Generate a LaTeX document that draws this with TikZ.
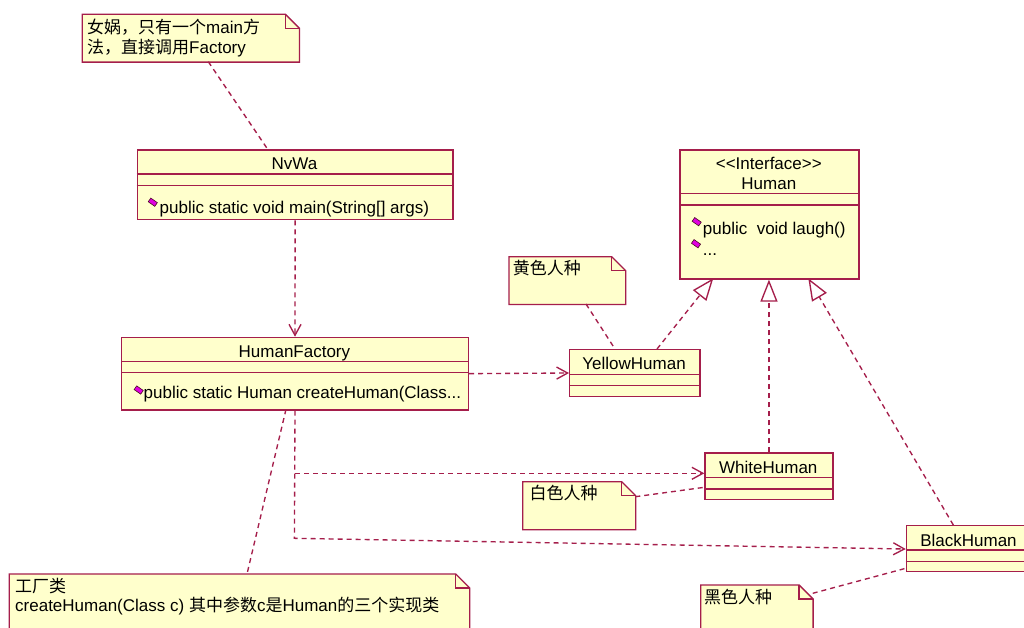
\documentclass[tikz,border=0pt]{standalone}
\usepackage{fontspec}
\setmainfont{Liberation Sans}
\newfontfamily\cjk{Noto Sans CJK SC}
\usetikzlibrary{arrows.meta}
\definecolor{rose}{RGB}{165,30,75}
\definecolor{paper}{RGB}{255,255,204}
\definecolor{iconfill}{RGB}{225,0,225}
\newcommand\umlclass[7]{%
  \node[box, minimum width=#4pt, minimum height=#5pt] (#1) at (#2,#3) {};
  \draw[sepline] ([yshift=-#6pt]#1.north west) -- ([yshift=-#6pt]#1.north east);
  \draw[sepline] ([yshift=-#7pt]#1.north west) -- ([yshift=-#7pt]#1.north east);}
\newcommand\umlnote[5]{%
  \node[inner sep=0pt, minimum width=#4pt, minimum height=#5pt, anchor=north west] (#1) at (#2,#3) {};
  \filldraw[notestyle] (#1.north west) -- ([xshift=-14pt]#1.north east) -- ([yshift=-14pt]#1.north east)
     -- (#1.south east) -- (#1.south west) -- cycle;
  \draw[notestyle, fill=none] ([xshift=-14pt]#1.north east) -- ([xshift=-14pt,yshift=-14pt]#1.north east)
     -- ([yshift=-14pt]#1.north east);}
\begin{document}
\begin{tikzpicture}[x=1pt,y=-1pt,
  box/.style={draw=rose, fill=paper, line width=1.3pt, inner sep=0pt, anchor=north west, rectangle},
  sepline/.style={draw=rose, line width=1.3pt},
  notestyle/.style={draw=rose, fill=paper, line width=1.3pt, line join=miter},
  txt/.style={inner sep=0pt, font=\fontsize{17}{20}\selectfont},
  lbl/.style={txt, anchor=base},
  lblw/.style={txt, anchor=base west},
  link/.style={draw=rose, line width=1.35pt, dash pattern=on 5pt off 4pt},
  dep/.style={link, -{Straight Barb[length=11pt,width=12pt]}},
  gen/.style={link, -{Triangle[open,length=22pt,width=17pt]}},
  ico/.style={draw=black!55!rose, fill=iconfill, line width=0.6pt, minimum width=8pt, minimum height=4.5pt, inner sep=0pt, rotate=-35}
]
\useasboundingbox (0,0) rectangle (1024,627);
\fill[white] (0,0) rectangle (1024,627);
\clip (0,0) rectangle (1024,627);

% classes
\umlclass{nvwa}{136.7}{149.3}{315.6}{69.7}{24.7}{36.4}
\umlclass{hf}{121}{336.7}{346.7}{72.6}{25}{35.6}
\umlclass{human}{679.3}{149.3}{179}{129}{44}{55.7}
\umlclass{yh}{569}{349}{130.3}{46.7}{25.3}{36.7}
\umlclass{wh}{704.3}{452.3}{128}{46.7}{25.4}{36.7}
\umlclass{bh}{905.7}{525}{126}{46}{25}{36.7}

% notes
\umlnote{n1}{82.3}{14.3}{216.7}{47.4}
\umlnote{n2}{509}{256.7}{116.3}{47.3}
\umlnote{n3}{522.7}{481.7}{112.6}{47.6}
\umlnote{n4}{700.7}{585}{112}{60}
\umlnote{n5}{9.3}{574}{460}{70}

% class texts
\node[lbl] (nvwaname) at (294.5,169) {NvWa};
\node[ico] (nvwaico) at (152.8,202.2) {};
\node[lblw] (nvwaop) at (159.5,213.3) {public static void main(String[] args)};

\node[lbl] (hfname) at (294.4,357.3) {HumanFactory};
\node[ico] (hfico) at (138.7,390) {};
\node[lblw] (hfop) at (143.5,398.3) {public static Human createHuman(Class...};

\node[lbl] (hster) at (768.8,169.3) {<{}<Interface>{}>};
\node[lbl] (hname) at (768.8,189.3) {Human};
\node[ico] (hico1) at (696.7,221.7) {};
\node[lblw] (hop1) at (702.7,234.3) {public\ \ void laugh()};
\node[ico] (hico2) at (696,243.7) {};
\node[lblw] (hop2) at (702.7,255) {...};

\node[lbl] (yhname) at (634.1,369.3) {YellowHuman};
\node[lbl] (whname) at (768.3,473.3) {WhiteHuman};
\node[lbl] (bhname) at (968.5,546) {BlackHuman};

% note texts
\node[lblw] (n1a) at (87,33.3) {{\cjk 女娲，只有一个}main{\cjk 方}};
\node[lblw] (n1b) at (87,53.3) {{\cjk 法，直接调用}Factory};
\node[lblw] (n2t) at (512.7,274.7) {\cjk 黄色人种};
\node[lblw] (n3t) at (529.3,499.5) {\cjk 白色人种};
\node[lblw] (n4t) at (704,603) {\cjk 黑色人种};
\node[lblw] (n5a) at (15,592) {\cjk 工厂类};
\node[lblw] (n5b) at (15,611) {createHuman(Class c) {\cjk 其中参数}c{\cjk 是}Human{\cjk 的三个实现类}};

% connector end points
\coordinate (n1end) at (208.3,61.7);
\coordinate (nvwatop) at (267.7,149.3);
\coordinate (n2end) at (586,304);
\coordinate (yhtop1) at (615,349);
\coordinate (yhtop2) at (657,349);
\coordinate (hgen1) at (713.3,278.3);
\coordinate (hgen3) at (808.3,278.3);
\coordinate (bhtop) at (953.3,525);
\coordinate (n3end) at (635.3,496.7);
\coordinate (whleft) at (704.3,487.3);
\coordinate (n4end) at (812.7,593.3);
\coordinate (bhleft) at (905.7,568.3);
\coordinate (hfbot) at (286,409.3);
\coordinate (n5top) at (247,574);
\coordinate (bend) at (294.4,538.3);
\coordinate (whin) at (704.3,473.3);
\coordinate (bhin) at (905.7,549);

% connectors
\draw[link] (n1end) -- (nvwatop);
\draw[dep] (nvwa.south) -- (hf.north);
\draw[dep] (hf.east) -- (yh.west);
\draw[link] (n2end) -- (yhtop1);
\draw[gen] (yhtop2) -- (hgen1);
\draw[gen] (wh.north) -- (wh.north |- human.south);
\draw[gen] (bhtop) -- (hgen3);
\draw[dep] (hf.south) -- (bend) -- (bhin);
\draw[dep] (hf.south |- whin) -- (whin);
\draw[link] (n3end) -- (whleft);
\draw[link] (n4end) -- (bhleft);
\draw[link] (hfbot) -- (n5top);
\end{tikzpicture}
\end{document}
